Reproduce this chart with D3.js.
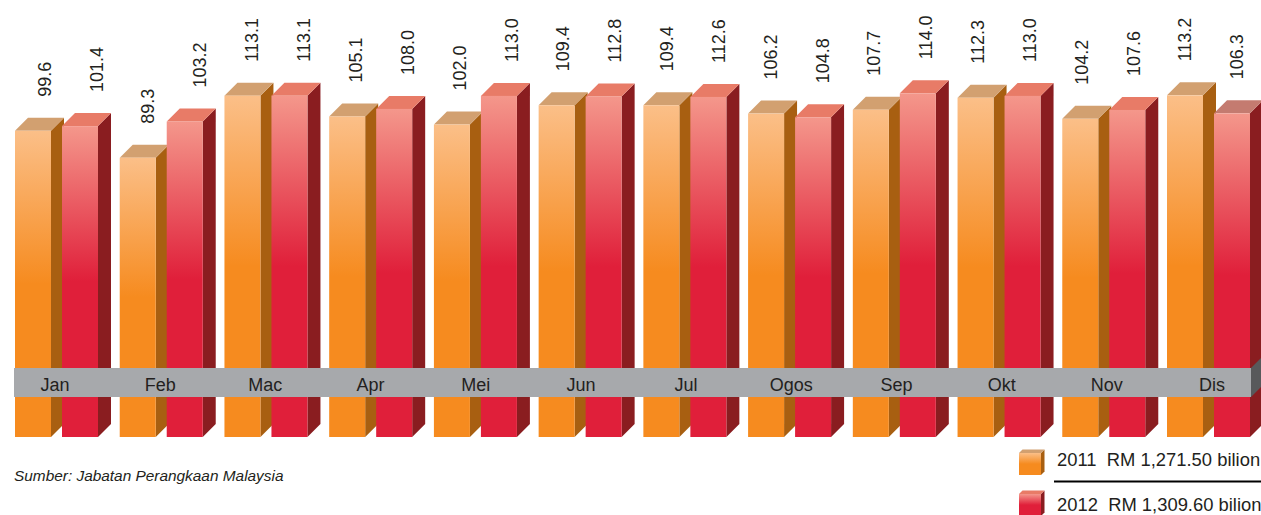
<!DOCTYPE html>
<html>
<head>
<meta charset="utf-8">
<script src="https://cdn.jsdelivr.net/npm/d3@7"></script>
<style>
  html, body { margin: 0; padding: 0; background: #ffffff; }
  svg { display: block; }
  text { font-family: "Liberation Sans", Arial, Helvetica, sans-serif; fill: #231f20; }
</style>
</head>
<body>
<svg id="chart" width="1261" height="515"></svg>
<script>
const months = ["Jan","Feb","Mac","Apr","Mei","Jun","Jul","Ogos","Sep","Okt","Nov","Dis"];
const values2011 = [99.6, 89.3, 113.1, 105.1, 102.0, 109.4, 109.4, 106.2, 107.7, 112.3, 104.2, 113.2];
const values2012 = [101.4, 103.2, 113.1, 108.0, 113.0, 112.8, 112.6, 104.8, 114.0, 113.0, 107.6, 106.3];
const seriesNames = ["2011", "2012"];
const legendTexts = ["2011  RM 1,271.50 bilion", "2012  RM 1,309.60 bilion"];
const sourceText = "Sumber: Jabatan Perangkaan Malaysia";

const svg = d3.select("#chart");
const base = 437, depth = 13, barW = 36, seriesOffset = 47;

const y = d3.scaleLinear().domain([-17.9, 149.8]).range([base, 0]);
const xGroup = d3.scaleLinear().domain([0, 11]).range([15, 1167]);
const xLabel = d3.scaleLinear().domain([0, 11]).range([44.5, 1185]);
const xMonth = d3.scaleLinear().domain([0, 11]).range([55, 1212]);

const styles = [
  { light: "#fbbf88", full: "#f68b1f", side: "#a85f11", top: "#d2a070" },
  { light: "#f4978b", full: "#e01f3a", side: "#8a1d20", top: "#e87b67" }
];
const lastTopColor = "#c47b70";

const defs = svg.append("defs");
styles.forEach((s, i) => {
  const g = defs.append("linearGradient").attr("id", "grad" + i)
    .attr("x1", 0).attr("y1", 0).attr("x2", 0).attr("y2", 1);
  g.append("stop").attr("offset", 0).attr("stop-color", s.light);
  g.append("stop").attr("offset", 0.5).attr("stop-color", s.full);
  g.append("stop").attr("offset", 1).attr("stop-color", s.full);
});

const data = [];
months.forEach((m, i) => {
  data.push({ i, s: 0, v: values2011[i] });
  data.push({ i, s: 1, v: values2012[i] });
});

const bars = svg.append("g").selectAll("g.bar").data(data).join("g").attr("class", "bar");

bars.each(function(d) {
  const g = d3.select(this);
  const x0 = xGroup(d.i) + d.s * seriesOffset;
  const t = y(d.v);
  const st = styles[d.s];
  g.append("path")
    .attr("d", `M${x0 + barW},${t} L${x0 + barW + depth},${t - depth} L${x0 + barW + depth},${base - depth} L${x0 + barW},${base} Z`)
    .attr("fill", st.side);
  g.append("path")
    .attr("d", `M${x0},${t} L${x0 + depth},${t - depth} L${x0 + barW + depth},${t - depth} L${x0 + barW},${t} Z`)
    .attr("fill", (d.s === 1 && d.i === months.length - 1) ? lastTopColor : st.top);
  g.append("rect")
    .attr("x", x0).attr("y", t).attr("width", barW).attr("height", base - t)
    .attr("fill", `url(#grad${d.s})`);
});

// value labels
svg.append("g").selectAll("text").data(data).join("text")
  .attr("transform", d => `translate(${xLabel(d.i) + d.s * 52},${y(d.v) - 34}) rotate(-90)`)
  .attr("dy", "0.35em")
  .attr("font-size", 18)
  .text(d => d.v.toFixed(1));

// month band
const bandTop = 368, bandBot = 397, bandL = 14, bandR = 1251;
svg.append("path")
  .attr("d", `M${bandR},${bandTop} L${bandR + depth},${bandTop - depth} L${bandR + depth},${bandBot - depth} L${bandR},${bandBot} Z`)
  .attr("fill", "#58595b");
svg.append("rect")
  .attr("x", bandL).attr("y", bandTop).attr("width", bandR - bandL).attr("height", bandBot - bandTop)
  .attr("fill", "#a7a9ac");
svg.append("g").selectAll("text").data(months).join("text")
  .attr("x", (d, i) => xMonth(i)).attr("y", 390.5)
  .attr("text-anchor", "middle").attr("font-size", 18)
  .text(d => d);

// source
svg.append("text").attr("x", 14).attr("y", 481)
  .attr("font-size", 15.4).attr("font-style", "italic")
  .text(sourceText);

// legend
const legY = [453, 494];
const legBase = [466, 511];
seriesNames.forEach((n, i) => {
  const st = styles[i];
  const lx = 1019, lw = 22, lh = 22, ld = 3.5, ty = legY[i];
  const lg = svg.append("g");
  lg.append("path")
    .attr("d", `M${lx + lw},${ty} L${lx + lw + ld},${ty - ld} L${lx + lw + ld},${ty + lh - ld} L${lx + lw},${ty + lh} Z`)
    .attr("fill", st.side);
  lg.append("path")
    .attr("d", `M${lx},${ty} L${lx + ld},${ty - ld} L${lx + lw + ld},${ty - ld} L${lx + lw},${ty} Z`)
    .attr("fill", st.top);
  lg.append("rect").attr("x", lx).attr("y", ty).attr("width", lw).attr("height", lh)
    .attr("fill", `url(#grad${i})`);
  lg.append("text").attr("x", 1057).attr("y", legBase[i]).attr("font-size", 18.4)
    .style("white-space", "pre")
    .text(legendTexts[i]);
});
svg.append("line").attr("x1", 1054).attr("x2", 1261).attr("y1", 481.5).attr("y2", 481.5)
  .attr("stroke", "#000").attr("stroke-width", 2);
</script>
</body>
</html>
